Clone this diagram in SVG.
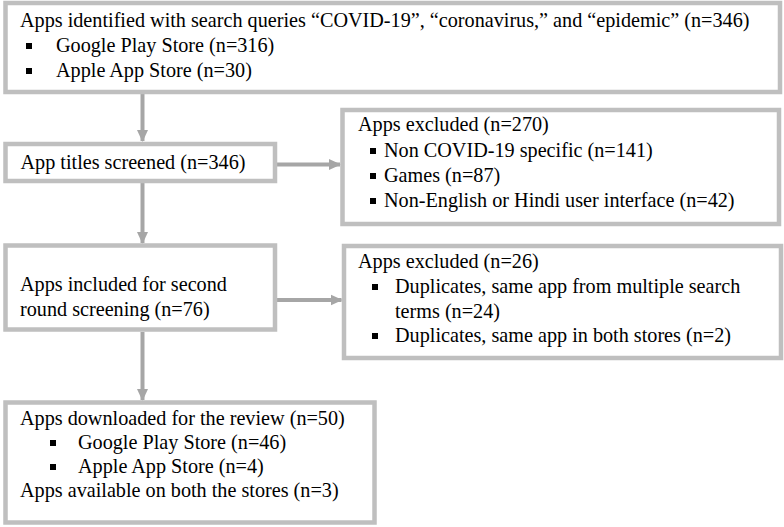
<svg xmlns="http://www.w3.org/2000/svg" width="784" height="527" viewBox="0 0 784 527">
<defs>
<style>
.box{fill:#fff;stroke:#bfbfbf;stroke-width:4.5}
.t{font-family:"Liberation Serif","Times New Roman",serif;font-size:20.2px;fill:#000}
.b{fill:#000}
.c{stroke:#a6a6a6;stroke-width:4;fill:none}
</style>
<marker id="ah" markerWidth="12" markerHeight="12" refX="11" refY="6" orient="auto" markerUnits="userSpaceOnUse">
<path d="M0,0.5 L12,6 L0,11.5 Z" fill="#a6a6a6"/>
</marker>
</defs>
<rect width="784" height="527" fill="#fff"/>
<g id="connectors">
<line class="c" x1="142.5" y1="94" x2="142.5" y2="141" marker-end="url(#ah)"/>
<line class="c" x1="142.5" y1="183" x2="142.5" y2="243" marker-end="url(#ah)"/>
<line class="c" x1="142.5" y1="332" x2="142.5" y2="400" marker-end="url(#ah)"/>
<line class="c" x1="277" y1="164.5" x2="340" y2="164.5" marker-end="url(#ah)"/>
<line class="c" x1="277" y1="300" x2="341.5" y2="300" marker-end="url(#ah)"/>
</g>
<g id="n1">
<rect class="box" x="5.5" y="3" width="774.5" height="89"/>
<text class="t" x="20" y="27">Apps identified with search queries “COVID-19”, “coronavirus,” and “epidemic” (n=346)</text>
<rect class="b" x="26" y="43" width="6" height="6"/>
<text class="t" x="56" y="52">Google Play Store (n=316)</text>
<rect class="b" x="26" y="68" width="6" height="6"/>
<text class="t" x="56" y="77">Apple App Store (n=30)</text>
</g>
<g id="n2">
<rect class="box" x="5.5" y="144" width="269.5" height="37"/>
<text class="t" x="20.5" y="169">App titles screened (n=346)</text>
</g>
<g id="n3">
<rect class="box" x="342.5" y="110" width="436.5" height="114"/>
<text class="t" x="358" y="131">Apps excluded (n=270)</text>
<rect class="b" x="370" y="148" width="6" height="6"/>
<text class="t" x="384" y="157">Non COVID-19 specific (n=141)</text>
<rect class="b" x="370" y="173" width="6" height="6"/>
<text class="t" x="384" y="182">Games (n=87)</text>
<rect class="b" x="370" y="198" width="6" height="6"/>
<text class="t" x="384" y="207">Non-English or Hindi user interface (n=42)</text>
</g>
<g id="n4">
<rect class="box" x="5.5" y="245.5" width="269.5" height="84"/>
<text class="t" x="20" y="291">Apps included for second</text>
<text class="t" x="20" y="316">round screening (n=76)</text>
</g>
<g id="n5">
<rect class="box" x="344" y="246" width="437" height="112"/>
<text class="t" x="358" y="268">Apps excluded (n=26)</text>
<rect class="b" x="372" y="284" width="6" height="6"/>
<text class="t" x="395" y="293">Duplicates, same app from multiple search</text>
<text class="t" x="395" y="318">terms (n=24)</text>
<rect class="b" x="372" y="333" width="6" height="6"/>
<text class="t" x="395" y="342">Duplicates, same app in both stores (n=2)</text>
</g>
<g id="n6">
<rect class="box" x="5.5" y="402.5" width="369" height="120"/>
<text class="t" x="20" y="425">Apps downloaded for the review (n=50)</text>
<rect class="b" x="50" y="440" width="6" height="6"/>
<text class="t" x="78" y="449">Google Play Store (n=46)</text>
<rect class="b" x="50" y="464" width="6" height="6"/>
<text class="t" x="78" y="473">Apple App Store (n=4)</text>
<text class="t" x="20" y="497">Apps available on both the stores (n=3)</text>
</g>
</svg>
